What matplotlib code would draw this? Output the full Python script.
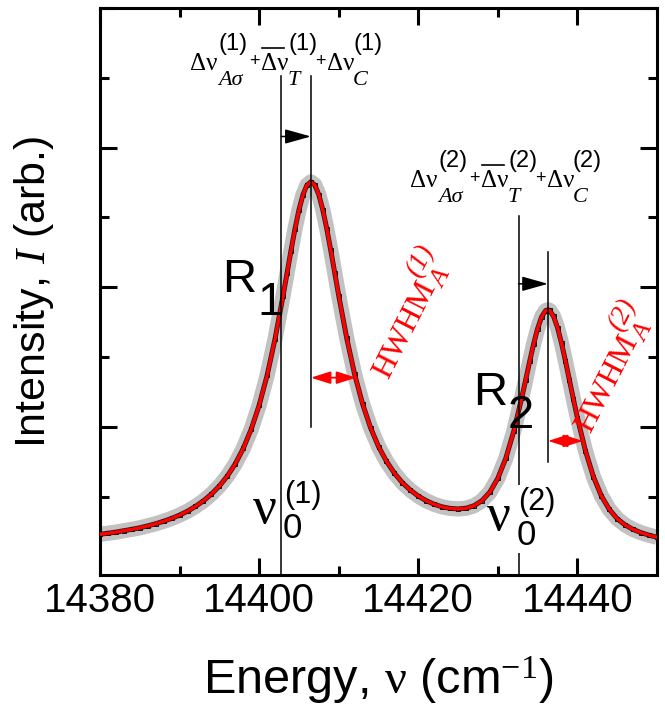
import matplotlib
matplotlib.use('Agg')
import matplotlib.pyplot as plt
from matplotlib.lines import Line2D
import numpy as np

plt.rcParams['font.family'] = ['Liberation Sans', 'DejaVu Sans']
plt.rcParams['mathtext.fontset'] = 'custom'
plt.rcParams['mathtext.rm'] = 'Liberation Serif'
plt.rcParams['mathtext.it'] = 'Liberation Serif:italic'
plt.rcParams['mathtext.bf'] = 'Liberation Serif:bold'
plt.rcParams['mathtext.sf'] = 'Liberation Sans'

# spectrum (cm^-1, arb. units)
energy = [14380, 14381, 14382, 14383, 14384, 14385, 14386, 14387, 14388, 14389,
          14390, 14391, 14392, 14393, 14394, 14395, 14396, 14397, 14398, 14399,
          14400, 14401, 14402, 14403, 14403.5, 14404, 14404.5, 14405, 14405.5, 14406,
          14406.5, 14407, 14407.5, 14408, 14408.5, 14409, 14409.5, 14410, 14411, 14412,
          14413, 14414, 14415, 14416, 14417, 14418, 14419, 14420, 14421, 14422,
          14423, 14424, 14425, 14426, 14427, 14428, 14429, 14430, 14431, 14432,
          14433, 14433.5, 14434, 14434.5, 14435, 14435.5, 14436, 14436.3, 14436.5, 14437,
          14437.5, 14438, 14438.5, 14439, 14439.5, 14440, 14441, 14442, 14443, 14444,
          14445, 14446, 14447, 14448, 14449, 14450]
intensity = [0.232, 0.239, 0.247, 0.257, 0.267, 0.278, 0.292, 0.307, 0.325, 0.345,
             0.369, 0.397, 0.431, 0.471, 0.519, 0.577, 0.648, 0.736, 0.846, 0.983,
             1.155, 1.369, 1.631, 1.937, 2.099, 2.262, 2.417, 2.553, 2.661, 2.731,
             2.755, 2.732, 2.663, 2.555, 2.419, 2.265, 2.104, 1.941, 1.638, 1.377,
             1.165, 0.995, 0.860, 0.754, 0.669, 0.601, 0.548, 0.505, 0.472, 0.446,
             0.428, 0.417, 0.413, 0.418, 0.436, 0.472, 0.534, 0.633, 0.776, 0.969,
             1.208, 1.338, 1.470, 1.596, 1.705, 1.788, 1.833, 1.839, 1.835, 1.792,
             1.711, 1.600, 1.471, 1.334, 1.197, 1.065, 0.831, 0.645, 0.507, 0.410,
             0.343, 0.298, 0.266, 0.243, 0.225, 0.210]

nu0 = [14402.8, 14432.6]          # unshifted positions
peak = [14406.5, 14436.3]         # shifted (peak) positions
line_top = [(3.51, 3.51), (2.51, 2.25)]   # top of nu0 line, top of peak line
peak_line_bottom = [1.0, 0.75]
shift_arrow_y = [3.08, 2.025]
hwhm_y = [1.353, 0.90]
hwhm_end = [14412.2, 14440.7]

W, H = 665, 714
fig = plt.figure(figsize=(W / 100, H / 100), dpi=100)
ax = fig.add_axes([100 / W, 1 - 575 / H, 557 / W, 567 / H])


def fp(x, y):
    return x / W, 1 - y / H


ax.plot(energy, intensity, color='#c2c2c2', lw=11, solid_capstyle='butt', zorder=2)
ax.plot(energy, intensity, color='#202020', lw=3.6, marker='s', ms=3.2, mfc='none',
        mec='black', mew=0.6, zorder=3)
ax.plot(energy, intensity, color='red', lw=2.5, zorder=4)

for i in range(2):
    ax.plot([nu0[i], nu0[i]], [-0.1, line_top[i][0]], color='black', lw=1.1, zorder=5)
    ax.plot([peak[i], peak[i]], [peak_line_bottom[i], line_top[i][1]], color='black', lw=1.1, zorder=5)
    ax.annotate('', xy=(peak[i], shift_arrow_y[i]), xytext=(nu0[i], shift_arrow_y[i]),
                arrowprops=dict(arrowstyle='-|>,head_length=1.6,head_width=0.45',
                                mutation_scale=10, color='black', lw=1.1,
                                shrinkA=0, shrinkB=0), zorder=6)
    ax.annotate('', xy=(hwhm_end[i], hwhm_y[i]), xytext=(peak[i], hwhm_y[i]),
                arrowprops=dict(arrowstyle='<|-|>,head_length=1.2,head_width=0.38',
                                mutation_scale=10, color='red', lw=1.3,
                                shrinkA=0, shrinkB=0), zorder=6)

ax.set_xlim(14380, 14450)
ax.set_ylim(-0.06, 4.0)
ax.set_xticks([14380, 14400, 14420, 14440])
ax.set_xticks([14390, 14410, 14430, 14450], minor=True)
ax.set_yticks([1, 2, 3, 4])
ax.set_yticks([0.5, 1.5, 2.5, 3.5], minor=True)
ax.set_yticklabels([])
ax.tick_params(which='both', direction='in', top=True, right=True, width=2.2)
ax.tick_params(which='major', length=12, labelsize=29, pad=5)
ax.tick_params(which='minor', length=6.5)
for s in ax.spines.values():
    s.set_linewidth(2.2)

ax.set_xlabel(r'Energy, $\mathrm{\nu}$ (cm$^{-1}$)', fontsize=35, labelpad=25)
ax.set_ylabel(r'Intensity, $I$ (arb.)', fontsize=31, labelpad=27)

serif = 'Liberation Serif'
sans = 'Liberation Sans'

# shift labels: pieces as (text, dx, dy, size, family, style)
parts = [('Δν', 0, 0, 18, serif, 'normal'),
         ('SUP', 28, -20, 17, sans, 'normal'),
         ('Aσ', 28, 15, 16, serif, 'italic'),
         ('+', 59, -4, 13, sans, 'normal'),
         ('Δν', 71, 0, 18, serif, 'normal'),
         ('SUP', 98, -20, 17, sans, 'normal'),
         ('T', 98, 15, 16, serif, 'italic'),
         ('+', 125, -4, 13, sans, 'normal'),
         ('Δν', 137, 0, 18, serif, 'normal'),
         ('SUP', 163, -20, 17, sans, 'normal'),
         ('C', 163, 15, 16, serif, 'italic')]
origins = [(190, 70), (410, 187)]
for i, (ox, oy) in enumerate(origins):
    for txt, dx, dy, size, fam, sty in parts:
        if txt == 'SUP':
            txt = '(%d)' % (i + 1)
        fig.text(*fp(ox + dx, oy + dy), txt, fontsize=size, family=fam, style=sty,
                 ha='left', va='baseline', zorder=7)
    fig.add_artist(Line2D([(ox + 72) / W, (ox + 94) / W], [1 - (oy - 22) / H] * 2,
                          color='black', lw=1.2))

# R1, R2
for (x, y), n in zip([(222, 292), (473, 405)], ['1', '2']):
    fig.text(*fp(x, y), 'R', fontsize=34, family=sans, ha='left', va='baseline')
    fig.text(*fp(x + 35, y + 23), n, fontsize=34, family=sans, ha='left', va='baseline')

# nu_0 labels
box = dict(facecolor='white', edgecolor='none', pad=1)
for (x, y), n in zip([(253, 523), (487, 530)], ['1', '2']):
    fig.text(*fp(x, y), 'ν', fontsize=38, family=serif, ha='left', va='baseline')
    fig.text(*fp(x + 31, y - 20), '(%s)' % n, fontsize=22, family=sans,
             ha='left', va='baseline', bbox=box)
    fig.text(*fp(x + 30, y + 15), '0', fontsize=25, family=sans,
             ha='left', va='baseline', bbox=box)

# HWHM labels (rotated)
ang = 63.0
a = np.deg2rad(ang)
bx, by = np.cos(a), -np.sin(a)
ux, uy = -np.sin(a), -np.cos(a)
for (x0, y0), n in zip([(388, 380), (590, 434)], ['1', '2']):
    for txt, s, h, size in [('HWHM', 0, 0, 23), ('(%s)' % n, 104, 19, 20), ('A', 106, -8, 19)]:
        fig.text(*fp(x0 + s * bx + h * ux, y0 + s * by + h * uy), txt, fontsize=size,
                 family=serif, style='normal' if txt == 'HWHM' else 'italic',
                 color='red', rotation=ang, rotation_mode='anchor',
                 ha='left', va='baseline')

fig.savefig('out.png', dpi=100)
